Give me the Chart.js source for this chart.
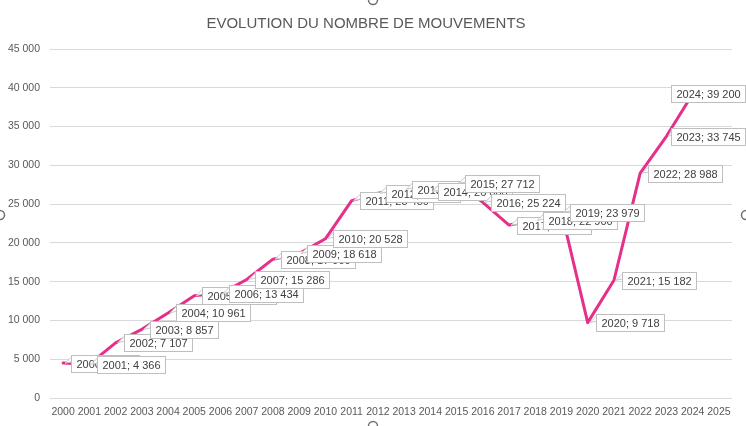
<!DOCTYPE html>
<html><head><meta charset="utf-8">
<script src="https://cdn.jsdelivr.net/npm/chart.js@4/dist/chart.umd.min.js"></script>
<style>html,body{margin:0;padding:0;background:#fff}#wrap{width:746px;height:426px;position:relative}</style>
</head><body><div id="wrap"><canvas id="c"></canvas></div>
<script>
const years = ['2000','2001','2002','2003','2004','2005','2006','2007','2008','2009','2010','2011','2012','2013','2014','2015','2016','2017','2018','2019','2020','2021','2022','2023','2024','2025'];
const mouvements = [4500, 4366, 7107, 8857, 10961, 13200, 13434, 15286, 17900, 18618, 20528, 25450, 26400, 26900, 26600, 27712, 25224, 22300, 22900, 23979, 9718, 15182, 28988, 33745, 39200, null];
const yTicks = [0, 5000, 10000, 15000, 20000, 25000, 30000, 35000, 40000, 45000];
const chartTitle = 'EVOLUTION DU NOMBRE DE MOUVEMENTS';

const FONT = '"Liberation Sans", Arial, sans-serif';
const fmt = v => String(v).replace(/\B(?=(\d{3})+(?!\d))/g, ' ');

const calloutPlugin = {
  id: 'callouts',
  afterDatasetsDraw(chart) {
    const ctx = chart.ctx;
    const meta = chart.getDatasetMeta(0);
    ctx.save();
    ctx.font = '11px ' + FONT;
    ctx.textBaseline = 'middle';
    ctx.textAlign = 'left';
    meta.data.forEach((pt, i) => {
      const v = mouvements[i];
      if (v == null) return;
      const txt = years[i] + '; ' + fmt(v);
      const w = Math.round(ctx.measureText(txt).width + 10), h = 17;
      let left = Math.round(pt.x + 8);
      if (left + w > chart.width - 1) left = chart.width - 1 - w;
      const top = Math.round(pt.y - h / 2);
      // pointer
      ctx.beginPath();
      ctx.moveTo(pt.x + 2, pt.y);
      ctx.lineTo(left + 0.5, top + 2);
      ctx.lineTo(left + 0.5, top + 7);
      ctx.closePath();
      ctx.fillStyle = '#ffffff';
      ctx.fill();
      ctx.strokeStyle = '#c8c8c8';
      ctx.lineWidth = 1;
      ctx.stroke();
      // box
      ctx.fillStyle = '#ffffff';
      ctx.fillRect(left + 0.5, top + 0.5, w, h);
      ctx.strokeStyle = '#bfbfbf';
      ctx.strokeRect(left + 0.5, top + 0.5, w, h);
      ctx.fillStyle = '#404040';
      ctx.fillText(txt, left + 5.5, top + h / 2 + 1);
    });
    ctx.restore();
  }
};

const handlesPlugin = {
  id: 'handles',
  afterDraw(chart) {
    const ctx = chart.ctx;
    ctx.save();
    ctx.lineWidth = 1.5;
    ctx.strokeStyle = '#707070';
    ctx.fillStyle = '#ffffff';
    [[0, 215], [chart.width, 215], [373, 0], [373, chart.height]].forEach(([x, y]) => {
      ctx.beginPath();
      ctx.arc(x, y, 4.5, 0, Math.PI * 2);
      ctx.fill();
      ctx.stroke();
    });
    ctx.restore();
  }
};

new Chart(document.getElementById('c'), {
  type: 'line',
  data: {
    labels: years,
    datasets: [{
      data: mouvements,
      borderColor: '#e62e8b',
      borderWidth: 3,
      pointRadius: 0,
      tension: 0,
      borderJoinStyle: 'round',
      borderCapStyle: 'round',
      spanGaps: false
    }]
  },
  options: {
    responsive: true,
    maintainAspectRatio: false,
    animation: false,
    devicePixelRatio: 1,
    layout: { padding: { left: 0, right: 14, top: 0, bottom: 8 } },
    plugins: {
      legend: { display: false },
      tooltip: { enabled: false },
      title: {
        display: true,
        text: chartTitle,
        color: '#595959',
        font: { family: FONT, size: 15, weight: 'normal' },
        padding: { top: 15, bottom: 16 }
      }
    },
    scales: {
      x: {
        offset: true,
        grid: { display: false, drawTicks: false },
        border: { display: false },
        ticks: { color: '#595959', font: { family: FONT, size: 10.5 }, padding: 8, maxRotation: 0, autoSkip: false },
        afterFit(s) { s.height = 20; }
      },
      y: {
        min: 0,
        max: 45000,
        afterBuildTicks(s) { s.ticks = yTicks.map(v => ({ value: v })); },
        grid: { color: '#d9d9d9', drawTicks: false },
        border: { display: false },
        ticks: { color: '#595959', font: { family: FONT, size: 10.5 }, padding: 10, callback: v => fmt(v) },
        afterFit(s) { s.width = 50; }
      }
    }
  },
  plugins: [calloutPlugin, handlesPlugin]
});
</script>
</body></html>
